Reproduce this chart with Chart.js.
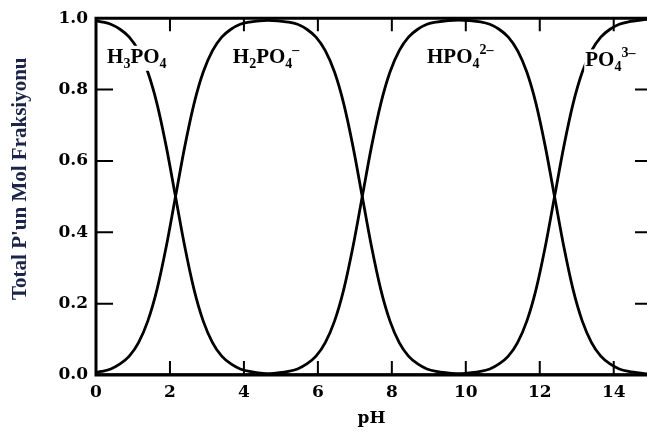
<!DOCTYPE html>
<html>
<head>
<meta charset="utf-8">
<script src="https://cdn.jsdelivr.net/npm/chart.js@4.4.1/dist/chart.umd.min.js"></script>
<style>
html,body{margin:0;padding:0;background:#fff;}
#wrap{width:647px;height:434px;position:relative;}
</style>
</head>
<body>
<div id="wrap"><canvas id="c" width="647" height="434"></canvas></div>
<script>
const pH = [0, 0.15, 0.4, 0.65, 0.9, 1.15, 1.4, 1.65, 1.9, 2.15,
  2.4, 2.65, 2.9, 3.15, 3.4, 3.65, 3.9, 4.15, 4.65, 5.2,
  5.45, 5.7, 5.95, 6.2, 6.45, 6.7, 6.95, 7.2, 7.45, 7.7,
  7.95, 8.2, 8.45, 8.7, 8.95, 9.2, 9.8, 10.4, 10.65, 10.9,
  11.15, 11.4, 11.65, 11.9, 12.15, 12.4, 12.65, 12.9, 13.15, 13.4,
  13.65, 13.9, 14.15, 14.4, 14.9];
const h3po4 = [0.993, 0.990, 0.983, 0.969, 0.947, 0.909, 0.849, 0.760, 0.640, 0.500,
  0.360, 0.240, 0.151, 0.091, 0.053, 0.031, 0.017, 0.010, 0.003, 0.001,
  0, 0, 0, 0, 0, 0, 0, 0, 0, 0,
  0, 0, 0, 0, 0, 0, 0, 0, 0, 0,
  0, 0, 0, 0, 0, 0, 0, 0, 0, 0,
  0, 0, 0, 0, 0];
const h2po4 = [0.007, 0.010, 0.017, 0.031, 0.053, 0.091, 0.151, 0.240, 0.360, 0.500,
  0.640, 0.760, 0.849, 0.909, 0.947, 0.969, 0.983, 0.989, 0.994, 0.989,
  0.983, 0.969, 0.947, 0.909, 0.849, 0.760, 0.640, 0.500, 0.360, 0.240,
  0.151, 0.091, 0.053, 0.031, 0.017, 0.010, 0.003, 0.001, 0, 0,
  0, 0, 0, 0, 0, 0, 0, 0, 0, 0,
  0, 0, 0, 0, 0];
const hpo4 = [0, 0, 0, 0, 0, 0, 0, 0, 0, 0,
  0, 0, 0, 0, 0, 0, 0, 0.001, 0.003, 0.010,
  0.017, 0.031, 0.053, 0.091, 0.151, 0.240, 0.360, 0.500, 0.640, 0.760,
  0.849, 0.909, 0.947, 0.969, 0.983, 0.989, 0.995, 0.990, 0.983, 0.969,
  0.947, 0.909, 0.849, 0.760, 0.640, 0.500, 0.360, 0.240, 0.151, 0.091,
  0.053, 0.031, 0.017, 0.010, 0.003];
const po4 = [0, 0, 0, 0, 0, 0, 0, 0, 0, 0,
  0, 0, 0, 0, 0, 0, 0, 0, 0, 0,
  0, 0, 0, 0, 0, 0, 0, 0, 0, 0,
  0, 0, 0, 0, 0, 0.001, 0.003, 0.010, 0.017, 0.031,
  0.053, 0.091, 0.151, 0.240, 0.360, 0.500, 0.640, 0.760, 0.849, 0.909,
  0.947, 0.969, 0.983, 0.990, 0.997];

const xTicks = [0, 2, 4, 6, 8, 10, 12, 14];
const yTicks = [0, 0.2, 0.4, 0.6, 0.8, 1.0];
const xTitle = 'pH';
const yTitle = "Total P'un Mol Fraksiyonu";

// species labels: segments [text, kind] ; anchor in data coords (pH, fraction)
const speciesLabels = [
  {x: 0.30, y: 0.875, parts: [['H',''],['3','sub'],['PO',''],['4','sub']]},
  {x: 3.70, y: 0.875, parts: [['H',''],['2','sub'],['PO',''],['4','sub'],['\u2013','sup']]},
  {x: 8.95, y: 0.875, parts: [['HPO',''],['4','sub'],['2\u2013','sup']]},
  {x: 13.23, y: 0.865, parts: [['PO',''],['4','sub'],['3\u2013','sup']]}
];

const series = [h3po4, h2po4, hpo4, po4];
const datasets = series.map(arr => ({
  data: pH.map((v, i) => ({x: v, y: arr[i]})),
  borderColor: '#000',
  borderWidth: 2.8,
  pointRadius: 0,
  fill: false,
  cubicInterpolationMode: 'monotone'
}));

const tickFont = {family: 'DejaVu Serif', size: 17, weight: 'bold'};

const decor = {
  id: 'decor',
  afterDatasetsDraw(chart) {
    const ctx = chart.ctx, xs = chart.scales.x, ys = chart.scales.y, a = chart.chartArea;
    const mainF = 'bold 21px "Liberation Serif"';
    const smallF = 'bold 14px "Liberation Serif"';
    speciesLabels.forEach(lb => {
      let px = xs.getPixelForValue(lb.x), py = ys.getPixelForValue(lb.y);
      ctx.save();
      let w = 0;
      lb.parts.forEach(p => { ctx.font = p[1] ? smallF : mainF; w += ctx.measureText(p[0]).width; });
      ctx.fillStyle = '#fff';
      ctx.fillRect(px - 1, py - 17, w + 2, 25);
      ctx.fillStyle = '#000';
      ctx.textBaseline = 'alphabetic';
      let cx = px;
      lb.parts.forEach(p => {
        ctx.font = p[1] ? smallF : mainF;
        let dy = p[1] === 'sub' ? 5 : (p[1] === 'sup' ? -9 : 0);
        ctx.fillText(p[0], cx, py + dy);
        cx += ctx.measureText(p[0]).width;
      });
      ctx.restore();
    });
    // frame
    ctx.save();
    ctx.strokeStyle = '#000';
    ctx.lineWidth = 3;
    ctx.beginPath();
    ctx.moveTo(a.left, a.top); ctx.lineTo(a.right + 2, a.top);
    ctx.moveTo(a.left, a.top - 1.5); ctx.lineTo(a.left, a.bottom + 1.5);
    ctx.moveTo(a.left, a.bottom); ctx.lineTo(a.right + 2, a.bottom);
    ctx.stroke();
    ctx.lineWidth = 2;
    ctx.beginPath();
    xTicks.forEach(v => {
      if (v === 0) return;
      const px = xs.getPixelForValue(v);
      ctx.moveTo(px, a.bottom); ctx.lineTo(px, a.bottom - 14);
      ctx.moveTo(px, a.top); ctx.lineTo(px, a.top + 13);
    });
    yTicks.forEach(v => {
      if (v === 0 || v === 1) return;
      const py = ys.getPixelForValue(v);
      ctx.moveTo(a.left, py); ctx.lineTo(a.left + 17, py);
      ctx.moveTo(a.right, py); ctx.lineTo(a.right - 12, py);
    });
    ctx.stroke();
    // y axis title
    ctx.translate(21, ys.getPixelForValue(0.55));
    ctx.rotate(-Math.PI / 2);
    ctx.font = 'bold 21px "Liberation Serif"';
    ctx.fillStyle = '#1c2447';
    ctx.textAlign = 'center';
    ctx.textBaseline = 'middle';
    ctx.fillText(yTitle, 0, 0);
    ctx.restore();
  }
};

new Chart(document.getElementById('c'), {
  type: 'line',
  data: {datasets},
  options: {
    responsive: false,
    animation: false,
    devicePixelRatio: 1,
    layout: {padding: {top: 15, right: 0, left: 0, bottom: 0}},
    plugins: {legend: {display: false}, tooltip: {enabled: false}},
    scales: {
      x: {
        type: 'linear', min: 0, max: 14.9,
        afterBuildTicks: s => { s.ticks = xTicks.map(v => ({value: v})); },
        afterFit: s => { s.height = 59; },
        grid: {display: false, drawTicks: false},
        border: {display: false},
        ticks: {color: '#000', font: tickFont, padding: 7, maxRotation: 0, autoSkip: false,
          callback: v => String(v)},
        title: {display: true, text: xTitle, color: '#000',
          font: {family: 'DejaVu Serif', size: 17, weight: 'bold'}, padding: {top: 0, bottom: 5}}
      },
      y: {
        type: 'linear', min: 0, max: 1,
        afterBuildTicks: s => { s.ticks = yTicks.map(v => ({value: v})); },
        afterFit: s => { s.width = 96; },
        grid: {display: false, drawTicks: false},
        border: {display: false},
        ticks: {color: '#000', font: tickFont, padding: 8, autoSkip: false,
          callback: v => v.toFixed(1)},
        title: {display: false}
      }
    }
  },
  plugins: [decor]
});
</script>
</body>
</html>
